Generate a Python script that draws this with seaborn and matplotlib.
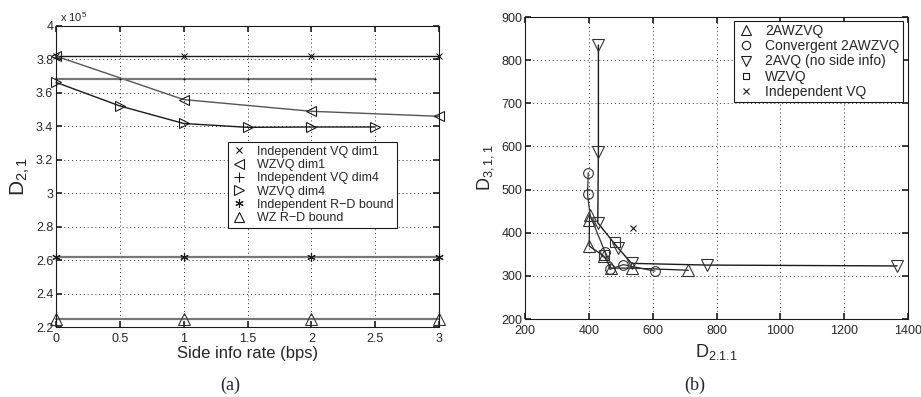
import numpy as np
import pandas as pd
import matplotlib
matplotlib.use("Agg")
import matplotlib.pyplot as plt
from matplotlib.lines import Line2D
from matplotlib.ticker import FuncFormatter
import seaborn as sns

sns.set_theme(style="white")
plt.rcParams['font.family'] = ['Liberation Sans', 'DejaVu Sans']
plt.rcParams['mathtext.fontset'] = 'custom'
plt.rcParams['mathtext.rm'] = 'Liberation Sans'
plt.rcParams['mathtext.it'] = 'Liberation Sans'

# ---------------- Panel (a) data (units of 1e5) ----------------
rate_full = [0, 1, 2, 3]
ind_vq_dim1 = [3.82, 3.82, 3.82, 3.82]
wzvq_dim1 = [3.82, 3.56, 3.49, 3.46]
rate_half = [0, 0.5, 1, 1.5, 2, 2.5]
ind_vq_dim4 = [3.683, 3.683, 3.683, 3.683, 3.683, 3.683]
wzvq_dim4 = [3.663, 3.522, 3.417, 3.394, 3.396, 3.396]
ind_rd_bound = [2.618, 2.618, 2.618, 2.618]
wz_rd_bound = [2.248, 2.248, 2.248, 2.248]

labels_a = ["Independent VQ dim1", "WZVQ dim1", "Independent VQ dim4",
            "WZVQ dim4", "Independent R\u2212D bound", "WZ R\u2212D bound"]

# ---------------- Panel (b) data ----------------
awzvq_x = [404, 402, 401, 447, 470, 534, 712]
awzvq_y = [442, 430, 369, 346, 318, 318, 313]
conv_x = [398, 396, 404, 451, 466, 508, 607]
conv_y = [539, 489, 440, 355, 315, 326, 311]
avq_x = [430, 430, 428, 491, 534, 770, 1366]
avq_y = [835, 588, 423, 365, 329, 325, 323]
wzvq_x = [448, 483]
wzvq_y = [349, 379]
indvq_x = [539]
indvq_y = [412]

labels_b = ["2AWZVQ", "Convergent 2AWZVQ", "2AVQ (no side info)", "WZVQ", "Independent VQ"]

fig = plt.figure(figsize=(9.21, 3.97), dpi=100)
W, H = 921, 397
axA = fig.add_axes([56 / W, 1 - 327 / H, (439 - 56) / W, (327 - 26) / H])
axB = fig.add_axes([525 / W, 1 - 319 / H, (908 - 525) / W, (319 - 17) / H])

gray = '#555555'
ms = 7
ASTER = (6, 2, 0)

def line(ax, x, y, marker, color, lc, lw=1.0, ms=ms, markevery=None):
    df = pd.DataFrame({"x": x, "y": y})
    kw = dict(marker=marker, markersize=ms, markerfacecolor='none',
              markeredgecolor=color, markeredgewidth=0.8, clip_on=False)
    if markevery is not None:
        kw['markevery'] = markevery
    sns.lineplot(data=df, x="x", y="y", ax=ax, color=lc, linewidth=lw,
                 sort=False, estimator=None, legend=False, **kw)

# Panel (a)
line(axA, rate_full, ind_vq_dim1, 'x', 'k', 'k', lw=1.0, ms=5)
line(axA, rate_full, wzvq_dim1, '<', 'k', gray, lw=1.0)
line(axA, rate_half, ind_vq_dim4, '+', 'k', '#777777', lw=1.6, ms=1)
line(axA, rate_half, wzvq_dim4, '>', 'k', 'k', lw=1.0)
line(axA, rate_full, ind_rd_bound, ASTER, 'k', '#777777', lw=1.6, ms=6)
line(axA, rate_full, wz_rd_bound, '^', '#333333', '#777777', lw=1.6, ms=8)

axA.set_xlim(0, 3)
axA.set_ylim(2.2, 4.0)
axA.set_xticks(np.arange(0, 3.01, 0.5))
axA.set_yticks(np.arange(2.2, 4.01, 0.2))
fmt = FuncFormatter(lambda v, p: f"{v:g}")
axA.xaxis.set_major_formatter(fmt)
axA.yaxis.set_major_formatter(FuncFormatter(lambda v, p: f"{round(v, 1):g}"))
axA.set_xlabel("Side info rate (bps)", fontsize=12, labelpad=1)
axA.set_ylabel(r"$\mathregular{D_{2,1}}$", fontsize=15, labelpad=3)
axA.text(0.01, 1.005, r"x 10$^{5}$", transform=axA.transAxes, fontsize=8,
         ha='left', va='bottom')

handles_a = [
    Line2D([], [], ls='none', marker='x', color='k', ms=5, mew=0.8),
    Line2D([], [], ls='none', marker='<', mfc='none', mec='k', ms=7, mew=0.8),
    Line2D([], [], ls='none', marker='+', color='k', ms=7, mew=0.8),
    Line2D([], [], ls='none', marker='>', mfc='none', mec='k', ms=7, mew=0.8),
    Line2D([], [], ls='none', marker=ASTER, color='k', ms=6, mew=0.8),
    Line2D([], [], ls='none', marker='^', mfc='none', mec='k', ms=7, mew=0.8),
]
legA = axA.legend(handles_a, labels_a, loc='upper left',
                  bbox_to_anchor=((228 - 56) / 383, (327 - 142) / 301),
                  fontsize=9, frameon=True, fancybox=False, edgecolor='k',
                  framealpha=1, borderpad=0.3, labelspacing=0.1,
                  handlelength=1.2, handletextpad=0.8, borderaxespad=0)
legA.get_frame().set_linewidth(0.8)

# Panel (b)
line(axB, avq_x, avq_y, 'v', '#333333', 'k', lw=1.0, ms=8)
line(axB, awzvq_x, awzvq_y, '^', '#333333', 'k', lw=0.9, ms=8)
line(axB, conv_x, conv_y, 'o', '#333333', '#333333', lw=0.9, ms=7,
     markevery=[0, 1, 3, 4, 5, 6])
line(axB, wzvq_x, wzvq_y, 's', '#333333', '#333333', lw=0.0, ms=7)
line(axB, indvq_x, indvq_y, 'x', 'k', 'k', lw=0.0, ms=5)

axB.set_xlim(200, 1400)
axB.set_ylim(200, 900)
axB.set_xticks(np.arange(200, 1401, 200))
axB.set_yticks(np.arange(200, 901, 100))
axB.set_xlabel(r"$\mathregular{D_{2.1.1}}$", fontsize=13, labelpad=4)
axB.set_ylabel(r"$\mathregular{D_{3,1,1}}$", fontsize=13, labelpad=4)

handles_b = [
    Line2D([], [], ls='none', marker='^', mfc='none', mec='k', ms=7, mew=0.8),
    Line2D([], [], ls='none', marker='o', mfc='none', mec='k', ms=6, mew=0.8),
    Line2D([], [], ls='none', marker='v', mfc='none', mec='k', ms=7, mew=0.8),
    Line2D([], [], ls='none', marker='s', mfc='none', mec='k', ms=5, mew=0.8),
    Line2D([], [], ls='none', marker='x', color='k', ms=5, mew=0.8),
]
legB = axB.legend(handles_b, labels_b, loc='upper right',
                  bbox_to_anchor=((903 - 525) / 383, (319 - 20.7) / 302),
                  fontsize=10, frameon=True, fancybox=False, edgecolor='k',
                  framealpha=1, borderpad=0.25, labelspacing=0.08,
                  handlelength=1.2, handletextpad=0.8, borderaxespad=0)
legB.get_frame().set_linewidth(0.8)

for ax in (axA, axB):
    ax.grid(True, linestyle=(0, (1, 3)), color='#333333', linewidth=0.7)
    ax.tick_params(direction='in', length=4, labelsize=9, pad=2,
                   top=True, right=True, bottom=True, left=True)
    ax.tick_params(axis='x', pad=4)
    for s in ax.spines.values():
        s.set_color('k')
        s.set_linewidth(0.8)
        s.set_visible(True)
    ax.set_axisbelow(True)

fig.text(230 / W, 1 - 385 / H, "(a)", ha='center', va='center', fontsize=13,
         family=['Liberation Serif', 'DejaVu Serif'])
fig.text(695 / W, 1 - 385 / H, "(b)", ha='center', va='center', fontsize=13,
         family=['Liberation Serif', 'DejaVu Serif'])

fig.savefig("out.png", dpi=100, facecolor='white')
